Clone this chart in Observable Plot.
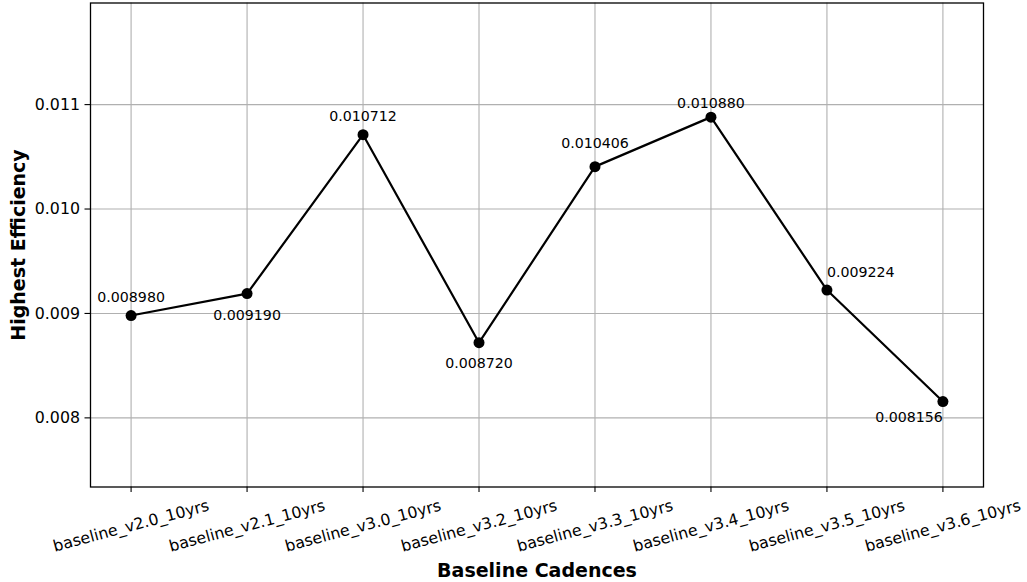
<!DOCTYPE html>
<html>
<head>
<meta charset="utf-8">
<script src="https://cdn.jsdelivr.net/npm/d3@7"></script>
<script src="https://cdn.jsdelivr.net/npm/@observablehq/plot@0.6"></script>
<style>
  html, body { margin: 0; padding: 0; background: white; }
  #chart { width: 1027px; height: 582px; }
</style>
</head>
<body>
<div id="chart"></div>
<script>
// ---- data ----
const cadences = [
  "baseline_v2.0_10yrs", "baseline_v2.1_10yrs", "baseline_v3.0_10yrs", "baseline_v3.2_10yrs",
  "baseline_v3.3_10yrs", "baseline_v3.4_10yrs", "baseline_v3.5_10yrs", "baseline_v3.6_10yrs"
];
const efficiency = [0.008980, 0.009190, 0.010712, 0.008720, 0.010406, 0.010880, 0.009224, 0.008156];
const yTicks = [0.008, 0.009, 0.010, 0.011];
const xTitle = "Baseline Cadences";
const yTitle = "Highest Efficiency";

const rows = cadences.map((c, i) => ({cadence: c, value: efficiency[i], label: efficiency[i].toFixed(6)}));

// label placement (style only): [dx, dy, anchor]
const placement = [
  [0, -18, "middle"], [0, 22, "middle"], [0, -18, "middle"], [0, 21, "middle"],
  [0, -23, "middle"], [0, -14, "middle"], [0, -18, "start"], [0, 16, "end"]
];

const font = "DejaVu Sans";
const labelMarks = rows.map((r, i) => Plot.text([r], {
  x: "cadence", y: "value", text: "label",
  dx: placement[i][0], dy: placement[i][1], textAnchor: placement[i][2],
  fontSize: 14.2, fill: "black"
}));

const chart = Plot.plot({
  width: 1027,
  height: 582,
  marginLeft: 90,
  marginRight: 44,
  marginTop: 2.5,
  marginBottom: 95.5,
  style: {fontFamily: font, background: "white", color: "black"},
  x: {type: "point", domain: cadences, padding: 0.35, round: false},
  y: {domain: [0.007338, 0.011973]},
  marks: [
    Plot.gridX(cadences, {stroke: "#b0b0b0", strokeOpacity: 1, strokeWidth: 1.1}),
    Plot.gridY(yTicks, {stroke: "#b0b0b0", strokeOpacity: 1, strokeWidth: 1.1}),
    Plot.axisY(yTicks, {tickSize: 5.5, tickPadding: 5, tickFormat: d3.format(".3f"), fontSize: 15.8, label: null, strokeWidth: 1.1}),
    Plot.axisX(cadences, {tickSize: 5.5, tickFormat: () => "", label: null, strokeWidth: 1.1}),
    Plot.text(cadences, {x: d => d, frameAnchor: "bottom", dy: 39, rotate: -15, textAnchor: "middle", lineAnchor: "middle", fontSize: 15.8, fill: "black"}),
    Plot.line(rows, {x: "cadence", y: "value", stroke: "black", strokeWidth: 2.2}),
    Plot.dot(rows, {x: "cadence", y: "value", r: 5.5, fill: "black", stroke: "none"}),
    ...labelMarks,
    Plot.frame({stroke: "black", strokeWidth: 1.3}),
    Plot.text([yTitle], {frameAnchor: "left", dx: -72, rotate: -90, textAnchor: "middle", fontWeight: "bold", fontSize: 19, fill: "black", lineAnchor: "middle"}),
    Plot.text([xTitle], {frameAnchor: "bottom", dy: 84, fontWeight: "bold", fontSize: 19, fill: "black", lineAnchor: "middle"})
  ]
});
document.getElementById("chart").appendChild(chart);
</script>
</body>
</html>
